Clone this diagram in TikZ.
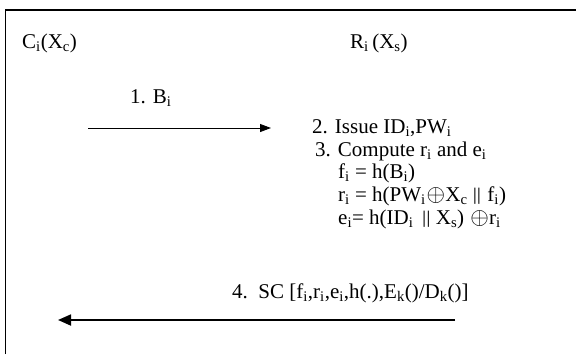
\documentclass[tikz,border=0pt]{standalone}
\usepackage{fontspec}
\setmainfont{Liberation Serif}
\usetikzlibrary{arrows.meta}
\newcommand{\xorop}{\kern0.8pt\scalebox{1.15}{$\oplus$}\kern0.3pt}
\newcommand{\pbar}{\raisebox{1pt}{\scalebox{1}[0.85]{||}}}

\begin{document}
\begin{tikzpicture}[x=1pt, y=-1pt,
    every node/.style={font=\fontsize{21}{22}\selectfont, inner sep=0pt,
      anchor=base west},
    msg/.style={-{Triangle[length=11pt,width=8pt]}}]
  \useasboundingbox (0,0) rectangle (576,354);
  % frame, cut off on the right and at the bottom
  \draw[line width=1.2pt] (5.5,354) -- (5.5,10) -- (576,10);
  % parties
  \node (cli) at (22,48) {C\textsubscript{i}(X\textsubscript{c})};
  \node (reg) at (350,48) {R\textsubscript{i}\,(X\textsubscript{s})};
  % step 1
  \node (st1) at (130,103) {1. B\textsubscript{i}};
  \coordinate (a1s) at (88,128);
  \coordinate (a1e) at (271,128);
  \draw[msg, line width=0.9pt] (a1s) -- (a1e);
  % steps 2 and 3 at the server
  \node (st2) at (312,133.5) {2. Issue ID\textsubscript{i},PW\textsubscript{i}};
  \node (st3) at (315,156) {3. Compute r\textsubscript{i} and e\textsubscript{i}};
  \node (eqf) at (338,178.5) {f\textsubscript{i} = h(B\textsubscript{i})};
  \node (eqr) at (338,201) {r\textsubscript{i} = h(PW\textsubscript{i}\xorop X\textsubscript{c} \pbar\ \kern1pt f\textsubscript{i})};
  \node (eqe) at (338,224.5) {e\textsubscript{i}= h(ID\textsubscript{i}\ \,\pbar\ X\textsubscript{s}) \xorop r\textsubscript{i}};
  % step 4
  \node (st4) at (232,298) {4.\ \ SC [f\textsubscript{i},r\textsubscript{i},e\textsubscript{i},h(.),E\textsubscript{k}()/D\textsubscript{k}()]};
  \coordinate (a4s) at (455,320);
  \coordinate (a4e) at (58,320);
  \draw[msg, line width=1.8pt, -{Triangle[length=13pt,width=11pt]}] (a4s) -- (a4e);
\end{tikzpicture}
\end{document}
